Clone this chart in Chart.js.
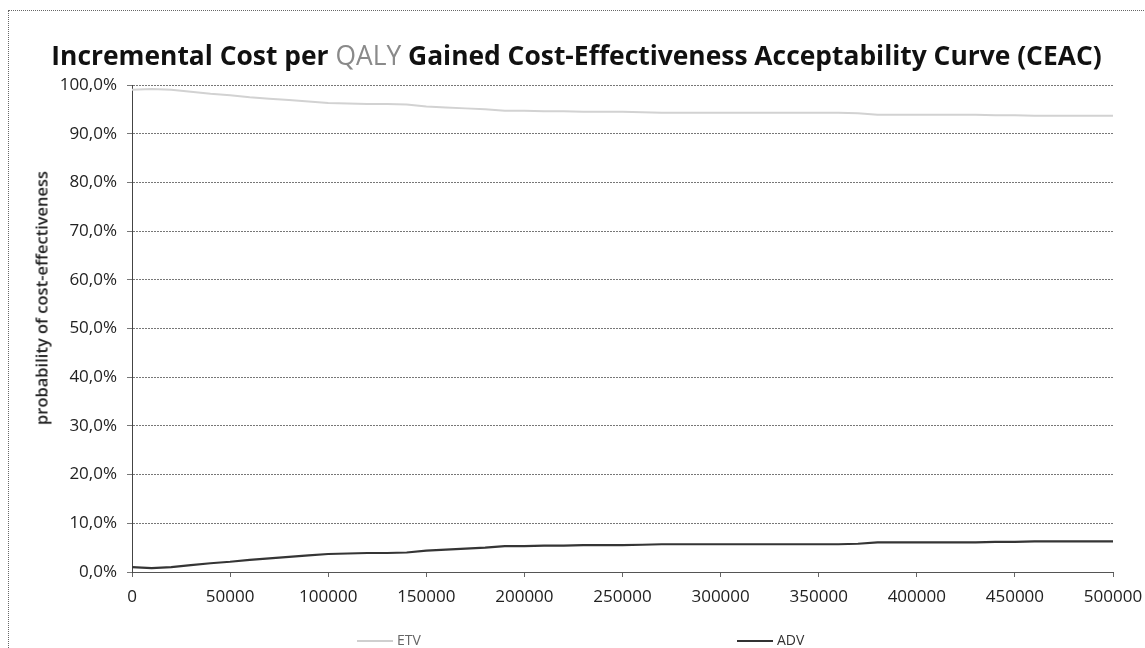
<!DOCTYPE html>
<html>
<head>
<meta charset="utf-8">
<script src="https://cdn.jsdelivr.net/npm/chart.js@4.4.1/dist/chart.umd.min.js"></script>
<style>
  html, body { margin: 0; padding: 0; background: #fff; }
  #wrap { position: relative; width: 1145px; height: 648px; overflow: hidden; font-family: "Open Sans", sans-serif; }
  #frame { position: absolute; left: 8px; top: 10px; width: 1200px; height: 700px; border: 1px dotted #666; box-sizing: border-box; }
  #chart { position: absolute; left: 0; top: 0; }
  #title { position: absolute; left: 4px; width: 1145px; top: 40px; text-align: center; font-size: 26.4px; font-weight: 700; color: #111; line-height: 30px; white-space: nowrap; }
  #title .q { color: #8a8a8a; font-weight: 400; }
  #ytitle { position: absolute; left: 41px; top: 298px; transform: translate(-50%, -50%) rotate(-90deg); font-size: 16.5px; font-weight: 600; color: #222; white-space: nowrap; }
  .leg { position: absolute; top: 631px; font-size: 14px; color: #333; line-height: 18px; white-space: nowrap; }
  .leg i { display: inline-block; width: 36px; height: 0; vertical-align: middle; margin-right: 4px; }
</style>
</head>
<body>
<div id="wrap">
  <div id="frame"></div>
  <canvas id="chart" width="1145" height="648"></canvas>
  <div id="title">Incremental Cost per <span class="q">QALY</span> Gained Cost-Effectiveness Acceptability Curve (CEAC)</div>
  <div id="ytitle">probability of cost-effectiveness</div>
  <div class="leg" style="left:357px;"><i style="border-top:2px solid #cfcfcf;"></i><span style="color:#666">ETV</span></div>
  <div class="leg" style="left:737px;"><i style="border-top:2px solid #333;"></i><span>ADV</span></div>
</div>
<script>
// Willingness-to-pay thresholds (cost per QALY)
const thresholds = [
  0, 10000, 20000, 30000, 40000, 50000, 60000, 70000, 80000, 90000,
  100000, 110000, 120000, 130000, 140000, 150000, 160000, 170000, 180000, 190000,
  200000, 210000, 220000, 230000, 240000, 250000, 260000, 270000, 280000, 290000,
  300000, 310000, 320000, 330000, 340000, 350000, 360000, 370000, 380000, 390000,
  400000, 410000, 420000, 430000, 440000, 450000, 460000, 470000, 480000, 490000,
  500000
];

// Probability (%) that ETV is cost-effective
const etvProb = [
  99.0, 99.2, 99.0, 98.6, 98.2, 97.9, 97.5, 97.2, 96.9, 96.6,
  96.3, 96.2, 96.1, 96.1, 96.0, 95.6, 95.4, 95.2, 95.0, 94.7,
  94.7, 94.6, 94.6, 94.5, 94.5, 94.5, 94.4, 94.3, 94.3, 94.3,
  94.3, 94.3, 94.3, 94.3, 94.3, 94.3, 94.3, 94.2, 93.9, 93.9,
  93.9, 93.9, 93.9, 93.9, 93.8, 93.8, 93.7, 93.7, 93.7, 93.7,
  93.7
];

// Probability (%) that ADV is cost-effective
const advProb = [
  1.0, 0.8, 1.0, 1.4, 1.8, 2.1, 2.5, 2.8, 3.1, 3.4,
  3.7, 3.8, 3.9, 3.9, 4.0, 4.4, 4.6, 4.8, 5.0, 5.3,
  5.3, 5.4, 5.4, 5.5, 5.5, 5.5, 5.6, 5.7, 5.7, 5.7,
  5.7, 5.7, 5.7, 5.7, 5.7, 5.7, 5.7, 5.8, 6.1, 6.1,
  6.1, 6.1, 6.1, 6.1, 6.2, 6.2, 6.3, 6.3, 6.3, 6.3,
  6.3
];

const seriesNames = ['ETV', 'ADV'];

const toPoints = (vals) => thresholds.map((x, i) => ({ x: x, y: vals[i] }));

const tickFont = { family: '"Open Sans", sans-serif', size: 17 };

new Chart(document.getElementById('chart'), {
  type: 'line',
  data: {
    datasets: [
      { label: seriesNames[0], data: toPoints(etvProb), borderColor: '#d2d2d2', borderWidth: 2, pointRadius: 0, tension: 0 },
      { label: seriesNames[1], data: toPoints(advProb), borderColor: '#353535', borderWidth: 2.2, pointRadius: 0, tension: 0 }
    ]
  },
  options: {
    responsive: false,
    animation: false,
    layout: { padding: { left: 10, right: 32, top: 85, bottom: 36 } },
    plugins: { legend: { display: false }, tooltip: { enabled: false } },
    scales: {
      x: {
        type: 'linear',
        min: 0, max: 500000,
        afterFit: (s) => { s.height = 40; s.paddingRight = 0; s.paddingLeft = 0; },
        ticks: { stepSize: 50000, color: '#222', font: tickFont, padding: 10, maxRotation: 0, callback: (v) => String(v) },
        grid: { drawOnChartArea: false, drawTicks: true, tickLength: 5, color: '#666' },
        border: { display: true, color: '#555', width: 1, dash: [2, 1] }
      },
      y: {
        min: 0, max: 100,
        afterFit: (s) => { s.width = 122; s.paddingTop = 0; s.paddingBottom = 0; },
        ticks: { stepSize: 10, color: '#222', font: tickFont, padding: 10, callback: (v) => v.toFixed(1).replace('.', ',') + '%' },
        grid: { color: '#777', lineWidth: 1, tickLength: 5 },
        border: { display: true, color: '#444', width: 1, dash: [2, 1] }
      }
    }
  }
});
</script>
</body>
</html>
